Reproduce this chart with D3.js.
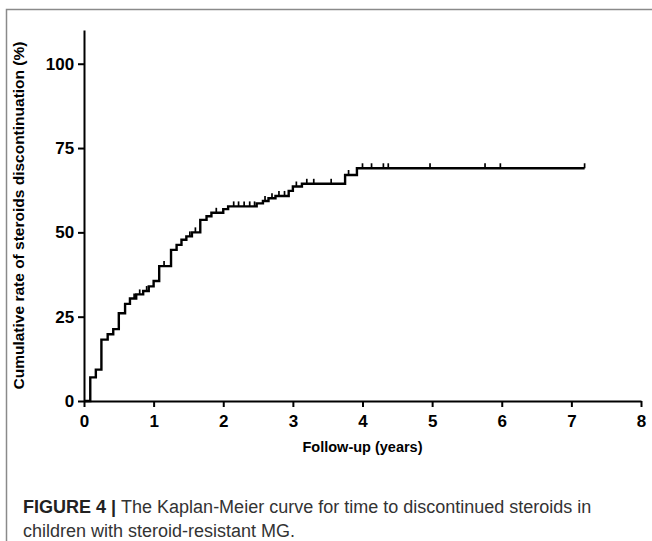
<!DOCTYPE html>
<html lang="en">
<head>
    <meta charset="UTF-8">
    <script src="https://d3js.org/d3.v7.min.js"></script>
    <title>index</title>
    <style>
        body { margin: 0; background: #fff; }
        svg text { font-family: "Liberation Sans", Arial, sans-serif; }
        .tick text { font-size: 17px; font-weight: bold; fill: #000; }
        .axis-title { font-size: 14.5px; font-weight: bold; }
        .caption { font-size: 18px; fill: #333; }
    </style>
</head>
<body>
    <div id="chart"></div>

    <script>
        // Kaplan-Meier steps: time (years) and cumulative rate (%) after each event
        var stepTimes  = [0.09, 0.17, 0.25, 0.34, 0.42, 0.50, 0.59, 0.66, 0.75, 0.85, 0.93, 1.00, 1.08, 1.25, 1.33, 1.40, 1.47, 1.55, 1.67, 1.76, 1.83, 2.00, 2.07, 2.48, 2.57, 2.65, 2.75, 2.94, 3.00, 3.13, 3.75, 3.92];
        var stepValues = [7.0, 9.3, 18.2, 19.8, 21.3, 26.0, 28.8, 30.4, 31.6, 32.6, 34.0, 35.6, 40.0, 44.8, 46.3, 47.8, 48.8, 50.0, 53.7, 54.8, 55.8, 56.9, 57.7, 58.6, 59.3, 60.1, 60.8, 62.3, 63.6, 64.4, 67.0, 69.0];
        // censored observations (times)
        var censorTimes = [0.72, 0.80, 0.90, 1.15, 1.52, 1.60, 1.90, 2.15, 2.22, 2.30, 2.38, 2.45, 2.60, 2.70, 2.80, 2.88, 3.05, 3.20, 3.30, 3.55, 3.80, 4.00, 4.13, 4.30, 4.37, 4.97, 5.76, 5.98, 7.19];
        var endTime = 7.19;
        var xTicks = [0, 1, 2, 3, 4, 5, 6, 7, 8];
        var yTicks = [0, 25, 50, 75, 100];

        var width = 652, height = 541;

        var svg = d3.select('#chart').append('svg')
            .attr('width', width)
            .attr('height', height);

        // frame of the figure panel
        svg.append('path')
            .attr('d', 'M6.5,541 V9.5 H652')
            .attr('fill', 'none')
            .attr('stroke', '#8a8a8a')
            .attr('stroke-width', 1.5);

        var x = d3.scaleLinear().domain([0, 8]).range([84, 641]);
        var y = d3.scaleLinear().domain([0, 110]).range([401, 30]);

        var xAxis = svg.append('g')
            .attr('transform', 'translate(0,401)')
            .call(d3.axisBottom(x).tickValues(xTicks).tickFormat(d3.format('d')).tickSize(6).tickSizeOuter(0));
        var yAxis = svg.append('g')
            .attr('transform', 'translate(84,0)')
            .call(d3.axisLeft(y).tickValues(yTicks).tickFormat(d3.format('d')).tickSize(6).tickSizeOuter(0));

        [xAxis, yAxis].forEach(function(a) {
            a.select('.domain').attr('stroke', '#000').attr('stroke-width', 2);
            a.selectAll('.tick line').attr('stroke', '#000').attr('stroke-width', 2);
        });
        xAxis.selectAll('.tick text').attr('dy', '1.0em');
        yAxis.selectAll('.tick text').attr('dx', '-0.05em');

        // step curve
        var pts = [[0, 0]];
        stepTimes.forEach(function(t, i) { pts.push([t, stepValues[i]]); });
        pts.push([endTime, stepValues[stepValues.length - 1]]);

        var line = d3.line()
            .x(function(d) { return x(d[0]); })
            .y(function(d) { return y(d[1]); })
            .curve(d3.curveStepAfter);

        svg.append('path')
            .datum(pts)
            .attr('d', line)
            .attr('fill', 'none')
            .attr('stroke', '#000')
            .attr('stroke-width', 2.4);

        function valueAt(t) {
            var v = 0;
            stepTimes.forEach(function(s, i) { if (s <= t) v = stepValues[i]; });
            return v;
        }

        svg.selectAll('.censor')
            .data(censorTimes)
            .enter()
            .append('line')
                .attr('class', 'censor')
                .attr('x1', function(d) { return x(d); })
                .attr('x2', function(d) { return x(d); })
                .attr('y1', function(d) { return y(valueAt(d)); })
                .attr('y2', function(d) { return y(valueAt(d)) - 5; })
                .attr('stroke', '#000')
                .attr('stroke-width', 1.7);

        svg.append('text')
            .attr('class', 'axis-title')
            .attr('x', x(4))
            .attr('y', 452)
            .attr('text-anchor', 'middle')
            .text('Follow-up (years)');

        svg.append('text')
            .attr('class', 'axis-title')
            .style('font-size', '15.5px')
            .attr('transform', 'translate(24,' + y(55) + ') rotate(-90)')
            .attr('text-anchor', 'middle')
            .text('Cumulative rate of steroids discontinuation (%)');

        var cap = svg.append('text').attr('class', 'caption').attr('x', 23).attr('y', 513);
        cap.append('tspan').attr('font-weight', 'bold').attr('fill', '#222').text('FIGURE 4 | ');
        cap.append('tspan').text('The Kaplan-Meier curve for time to discontinued steroids in');
        svg.append('text').attr('class', 'caption').attr('x', 23).attr('y', 537)
            .text('children with steroid-resistant MG.');
    </script>
</body>
</html>
